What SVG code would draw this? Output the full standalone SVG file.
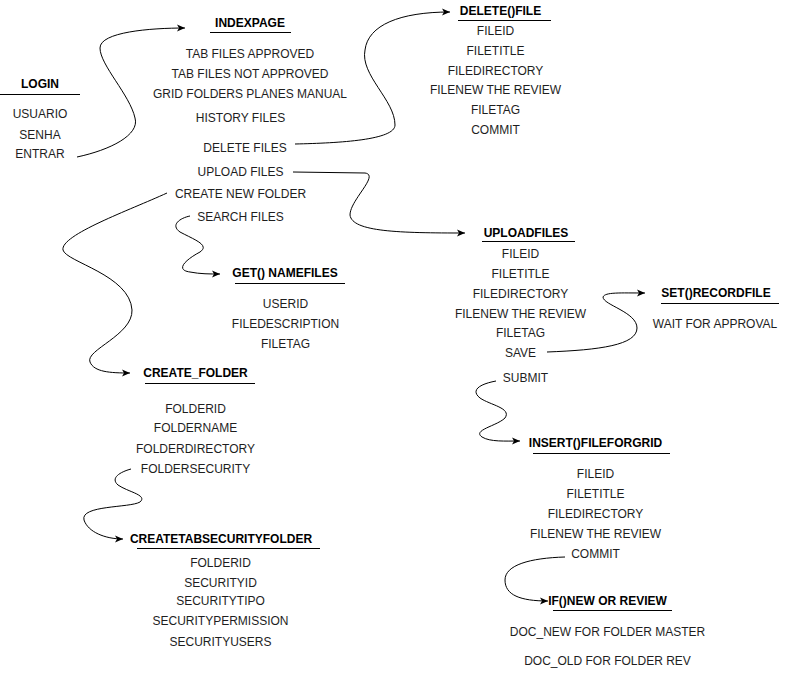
<svg xmlns="http://www.w3.org/2000/svg" width="786" height="673" viewBox="0 0 786 673">
  <style>
    .t { font-family: "Liberation Sans", Arial, sans-serif; font-size: 12px; fill: #1e1e1e; text-anchor: middle; }
    .h { font-weight: bold; fill: #000; }
    .rule { stroke: #000; stroke-width: 1; }
    .edge { fill: none; stroke: #000; stroke-width: 1; marker-end: url(#arrow); }
  </style>
  <defs>
    <marker id="arrow" markerUnits="userSpaceOnUse" markerWidth="10" markerHeight="10" refX="9" refY="5" orient="auto">
      <path d="M1,1.5 L9,5 L1,8.5 L3,5 Z" fill="#000"/>
    </marker>
  </defs>
  <rect width="786" height="673" fill="#fff"/>

  <g id="connectors">
    <path class="edge" d="M77,157 C110,150 140,135 135,118 C130,95 100,65 100,48 C100,32 150,28 185,28"/>
    <path class="edge" d="M295,144 C340,143 395,140 395,125 C395,100 360,75 365,50 C368,25 400,12 450,12"/>
    <path class="edge" d="M293,172 L365,173 C380,175 350,200 350,215 C352,232 400,233 465,233"/>
    <path class="edge" d="M547,352 C600,350 637,345 637,328 C637,312 603,305 603,297 C605,292 620,293 645,293"/>
    <path class="edge" d="M190,216 C180,218 170,225 180,232 C195,240 210,245 200,252 C185,260 175,270 190,272 C200,274 210,274 220,274"/>
    <path class="edge" d="M167,193 C130,210 60,235 63,250 C66,262 130,275 132,310 C133,335 85,350 90,362 C94,372 110,373 130,373"/>
    <path class="edge" d="M131,469 C120,472 110,478 118,485 C128,492 148,495 140,502 C130,508 80,505 84,520 C88,532 105,539 123,539"/>
    <path class="edge" d="M496,381 C480,384 470,390 480,398 C490,405 512,408 505,418 C497,426 472,430 482,437 C490,442 505,441 520,441"/>
    <path class="edge" d="M565,557 C530,558 505,565 505,580 C505,595 520,601 548,601"/>
  </g>

  <g id="login">
    <text class="t h" x="40" y="88">LOGIN</text>
    <line class="rule" x1="0" y1="94.5" x2="80" y2="94.5"/>
    <text class="t" x="40" y="118">USUARIO</text>
    <text class="t" x="40" y="139">SENHA</text>
    <text class="t" x="40" y="158">ENTRAR</text>
  </g>

  <g id="indexpage">
    <text class="t h" x="250" y="27">INDEXPAGE</text>
    <line class="rule" x1="210" y1="32.5" x2="291" y2="32.5"/>
    <text class="t" x="250" y="58">TAB FILES APPROVED</text>
    <text class="t" x="250" y="78">TAB FILES NOT APPROVED</text>
    <text class="t" x="250" y="98">GRID FOLDERS PLANES MANUAL</text>
    <text class="t" x="240.5" y="122">HISTORY FILES</text>
    <text class="t" x="245" y="152">DELETE FILES</text>
    <text class="t" x="240.5" y="176">UPLOAD FILES</text>
    <text class="t" x="240.5" y="198">CREATE NEW FOLDER</text>
    <text class="t" x="240.5" y="221">SEARCH FILES</text>
  </g>

  <g id="delete-file">
    <text class="t h" x="500.5" y="15">DELETE()FILE</text>
    <line class="rule" x1="458" y1="20.5" x2="551" y2="20.5"/>
    <text class="t" x="495.5" y="35">FILEID</text>
    <text class="t" x="495.5" y="55">FILETITLE</text>
    <text class="t" x="495.5" y="75">FILEDIRECTORY</text>
    <text class="t" x="495.5" y="94">FILENEW THE REVIEW</text>
    <text class="t" x="495.5" y="114">FILETAG</text>
    <text class="t" x="495.5" y="134">COMMIT</text>
  </g>

  <g id="uploadfiles">
    <text class="t h" x="526" y="237">UPLOADFILES</text>
    <line class="rule" x1="482" y1="241.5" x2="575" y2="241.5"/>
    <text class="t" x="520.5" y="258">FILEID</text>
    <text class="t" x="520.5" y="278">FILETITLE</text>
    <text class="t" x="520.5" y="298">FILEDIRECTORY</text>
    <text class="t" x="520.5" y="318">FILENEW THE REVIEW</text>
    <text class="t" x="520.5" y="337">FILETAG</text>
    <text class="t" x="520.5" y="357">SAVE</text>
    <text class="t" x="525.5" y="382">SUBMIT</text>
  </g>

  <g id="set-recordfile">
    <text class="t h" x="716" y="297">SET()RECORDFILE</text>
    <line class="rule" x1="661" y1="303.5" x2="779" y2="303.5"/>
    <text class="t" x="715" y="328">WAIT FOR APPROVAL</text>
  </g>

  <g id="get-namefiles">
    <text class="t h" x="285" y="277">GET() NAMEFILES</text>
    <line class="rule" x1="235" y1="283.5" x2="345" y2="283.5"/>
    <text class="t" x="285.5" y="308">USERID</text>
    <text class="t" x="285.5" y="328">FILEDESCRIPTION</text>
    <text class="t" x="285.5" y="348">FILETAG</text>
  </g>

  <g id="create-folder">
    <text class="t h" x="195.5" y="377">CREATE_FOLDER</text>
    <line class="rule" x1="145" y1="383.5" x2="255" y2="383.5"/>
    <text class="t" x="195.5" y="413">FOLDERID</text>
    <text class="t" x="195.5" y="432">FOLDERNAME</text>
    <text class="t" x="195.5" y="453">FOLDERDIRECTORY</text>
    <text class="t" x="195.5" y="473">FOLDERSECURITY</text>
  </g>

  <g id="createtabsecurityfolder">
    <text class="t h" x="221" y="543">CREATETABSECURITYFOLDER</text>
    <line class="rule" x1="137" y1="548.5" x2="320" y2="548.5"/>
    <text class="t" x="220.5" y="567">FOLDERID</text>
    <text class="t" x="220.5" y="587">SECURITYID</text>
    <text class="t" x="220.5" y="605">SECURITYTIPO</text>
    <text class="t" x="220.5" y="625">SECURITYPERMISSION</text>
    <text class="t" x="220.5" y="646">SECURITYUSERS</text>
  </g>

  <g id="insert-fileforgrid">
    <text class="t h" x="595.5" y="447">INSERT()FILEFORGRID</text>
    <line class="rule" x1="533" y1="453.5" x2="670" y2="453.5"/>
    <text class="t" x="595.5" y="478">FILEID</text>
    <text class="t" x="595.5" y="498">FILETITLE</text>
    <text class="t" x="595.5" y="518">FILEDIRECTORY</text>
    <text class="t" x="595.5" y="538">FILENEW THE REVIEW</text>
    <text class="t" x="595.5" y="558">COMMIT</text>
  </g>

  <g id="if-new-or-review">
    <text class="t h" x="607.5" y="605">IF()NEW OR REVIEW</text>
    <line class="rule" x1="553" y1="610.5" x2="672" y2="610.5"/>
    <text class="t" x="607.5" y="636">DOC_NEW FOR FOLDER MASTER</text>
    <text class="t" x="607.5" y="665">DOC_OLD FOR FOLDER REV</text>
  </g>
</svg>
